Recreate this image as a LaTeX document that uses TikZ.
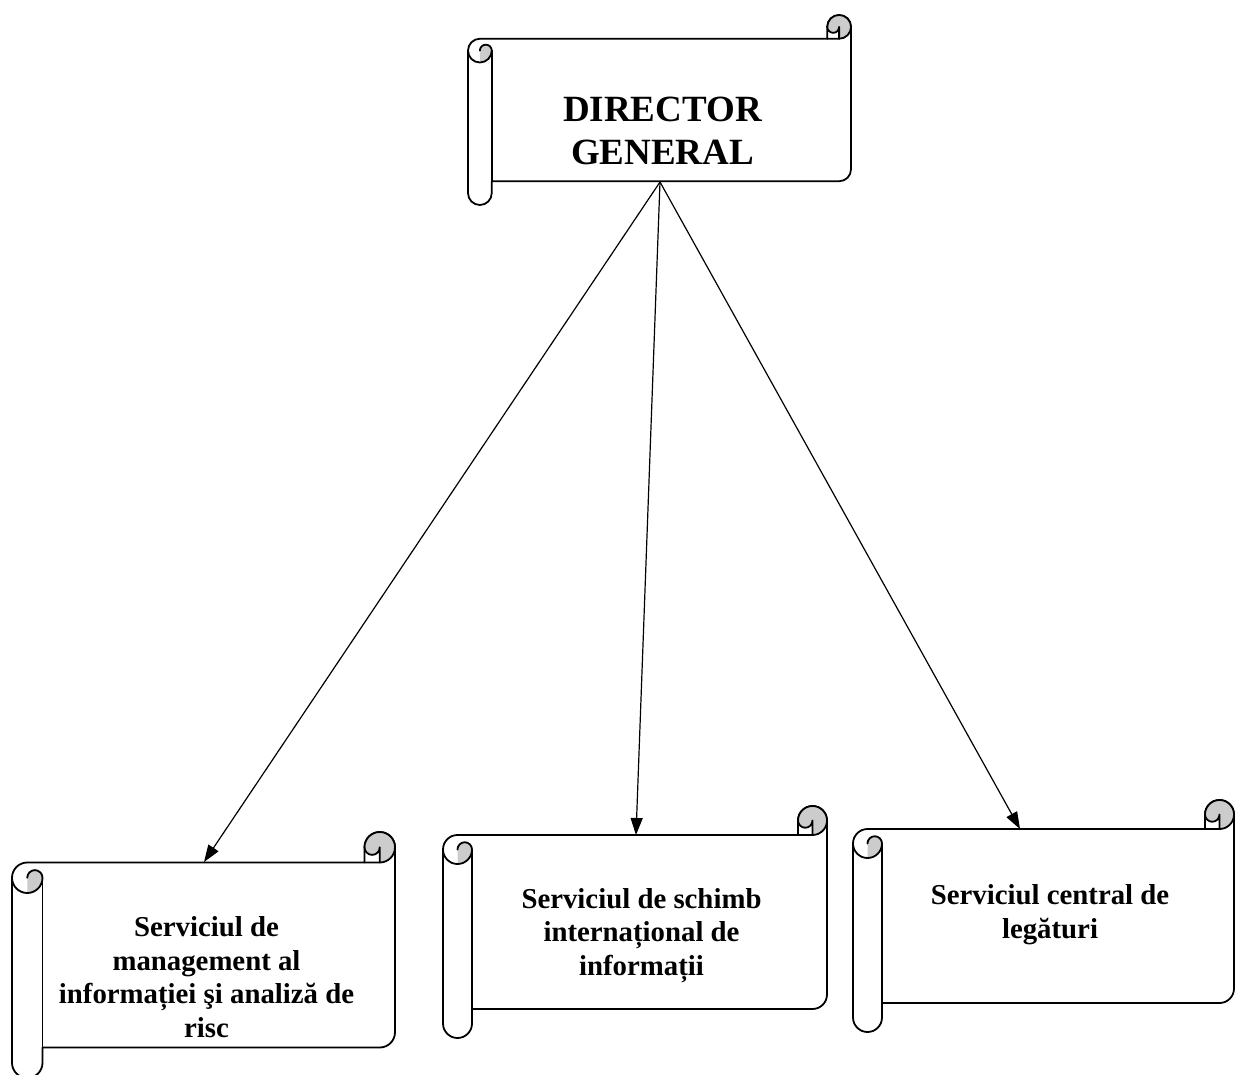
\documentclass[tikz,border=0pt]{standalone}
\usepackage{fontspec}
\setmainfont{Liberation Serif}
\usetikzlibrary{arrows.meta}

\tikzset{
  scroll line/.style={line width=1.8pt, line join=round, line cap=round},
  curl fill/.style={fill=black!20},
  connector/.style={line width=1.2pt, -{Triangle[length=17pt,width=12pt]}},
  big label/.style={font=\bfseries\fontsize{37}{43.3}\selectfont, align=center, inner sep=0pt, anchor=base},
  unit label/.style={font=\bfseries\fontsize{28.8}{33.4}\selectfont, align=center, inner sep=0pt, anchor=base},
}

% Horizontal scroll: left, top, right, bottom, roll size (y grows downward)
\newcommand\hscroll[5]{%
  \pgfmathsetmacro\sL{#1}\pgfmathsetmacro\sT{#2}%
  \pgfmathsetmacro\sR{#3}\pgfmathsetmacro\sB{#4}%
  \pgfmathsetmacro\sC{#5}\pgfmathsetmacro\sH{#5/2}\pgfmathsetmacro\sQ{#5/4}%
  % sheet with its two rolls
  \filldraw[scroll line, fill=white]
    (\sL,\sT+1.5*\sC) arc[start angle=180,end angle=270,radius=\sH]
    -- (\sR-\sC,\sT+\sC) -- (\sR-\sC,\sT+\sH)
    arc[start angle=180,end angle=360,radius=\sH]
    -- (\sR,\sB-1.5*\sC) arc[start angle=0,end angle=90,radius=\sH]
    -- (\sL+\sC,\sB-\sC) -- (\sL+\sC,\sB-\sH)
    arc[start angle=0,end angle=180,radius=\sH] -- cycle;
  % shaded inside of the rolls
  \fill[curl fill]
    (\sL+\sH,\sT+2*\sC) arc[start angle=90,end angle=0,radius=\sH]
    arc[start angle=0,end angle=-180,radius=\sQ] -- cycle;
  \fill[curl fill]
    (\sR-\sH,\sT+\sC) arc[start angle=90,end angle=-180,radius=\sH]
    arc[start angle=180,end angle=0,radius=\sQ] -- cycle;
  % top of the right curl, over the shading
  \draw[scroll line] (\sR-\sC,\sT+\sH) arc[start angle=180,end angle=360,radius=\sH];
  % curl and roll details
  \draw[scroll line] (\sR-\sC,\sT+\sC) -- (\sR-\sH,\sT+\sC)
    arc[start angle=90,end angle=0,radius=\sH];
  \draw[scroll line] (\sR-\sH,\sT+\sC) -- (\sR-\sH,\sT+\sH)
    arc[start angle=0,end angle=180,radius=\sQ];
  \draw[scroll line] (\sL+\sH,\sT+1.5*\sC)
    arc[start angle=180,end angle=360,radius=\sQ]
    arc[start angle=0,end angle=180,radius=\sH];
  \draw[scroll line] (\sL+\sC,\sT+1.5*\sC) -- (\sL+\sC,\sB-\sC);
}

\begin{document}
\begin{tikzpicture}[x=1pt, y=-1pt]
  \useasboundingbox (0,0) rectangle (1235,1075);
  \fill[white] (0,0) rectangle (1235,1075);

  % scrolls
  \hscroll{468}{15}{851}{205}{23.75}
  \hscroll{12}{832}{395}{1078}{30.5}
  \hscroll{443}{806}{827}{1038}{29}
  \hscroll{853}{800}{1234}{1032}{29}

  % connector ends
  \coordinate (dg-foot) at (660,182);
  \coordinate (s1-head) at (204,862);
  \coordinate (s2-head) at (636,835);
  \coordinate (s3-head) at (1020,829);

  \draw[connector] (dg-foot) -- (s1-head);
  \draw[connector] (dg-foot) -- (s2-head);
  \draw[connector] (dg-foot) -- (s3-head);

  % labels (anchored at the baseline of their last line)
  \node[big label] (dg) at (662.5,165) {DIRECTOR\\GENERAL};
  \node[unit label] (s1) at (206.5,1037) {Serviciul de\\management al\\informației şi analiză de\\risc};
  \node[unit label] (s2) at (641.5,975) {Serviciul de schimb\\internațional de\\informații};
  \node[unit label] (s3) at (1050,938) {Serviciul central de\\legături};
\end{tikzpicture}
\end{document}
